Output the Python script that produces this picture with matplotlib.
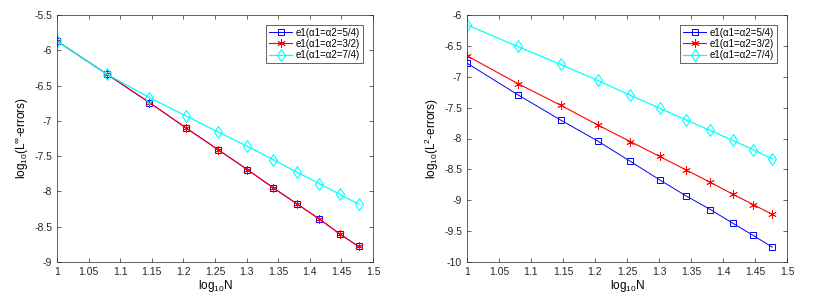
import numpy as np
import matplotlib.pyplot as plt

# log10 of N = 10, 12, ..., 30
N = [10, 12, 14, 16, 18, 20, 22, 24, 26, 28, 30]
x = np.log10(N)

# L-infinity errors (log10)
inf_54 = [-5.87, -6.34, -6.74, -7.10, -7.41, -7.69, -7.95, -8.18, -8.39, -8.60, -8.78]
inf_32 = [-5.87, -6.34, -6.74, -7.10, -7.41, -7.69, -7.95, -8.18, -8.39, -8.60, -8.78]
inf_74 = [-5.87, -6.34, -6.67, -6.93, -7.16, -7.36, -7.55, -7.73, -7.89, -8.04, -8.18]

# L2 errors (log10)
l2_54 = [-6.78, -7.29, -7.70, -8.04, -8.37, -8.67, -8.93, -9.15, -9.37, -9.57, -9.76]
l2_32 = [-6.66, -7.11, -7.46, -7.78, -8.05, -8.29, -8.51, -8.71, -8.90, -9.07, -9.23]
l2_74 = [-6.16, -6.51, -6.80, -7.06, -7.30, -7.51, -7.70, -7.87, -8.03, -8.18, -8.33]

labels = ['e1(\u03b11=\u03b12=5/4)', 'e1(\u03b11=\u03b12=3/2)', 'e1(\u03b11=\u03b12=7/4)']
xticks = np.arange(1, 1.501, 0.05)
xticklabels = ['1', '1.05', '1.1', '1.15', '1.2', '1.25', '1.3', '1.35', '1.4', '1.45', '1.5']

plt.rcParams['font.family'] = ['Arial', 'Liberation Sans', 'DejaVu Sans']
plt.rcParams['font.size'] = 7.5

fig = plt.figure(figsize=(8.13, 3.02), dpi=100)
ax1 = fig.add_axes([57/813, 1 - 262/302, 316/813, 247/302])
ax2 = fig.add_axes([467/813, 1 - 262/302, 320/813, 247/302])


def draw(ax, ys, ylim, yticks, ylabel):
    ax.plot(x, ys[0], color='#0000ff', marker='s', mfc='none', ms=5, lw=0.7, mew=0.7, label=labels[0])
    ax.plot(x, ys[1], color='#ff0000', marker=(6, 2, 0), ms=6, lw=0.8, mew=0.6, label=labels[1])
    ax.plot(x, ys[2], color='#00ffff', marker='d', mfc='none', ms=6, lw=0.9, mew=0.8, label=labels[2])
    ax.set_xlim(1, 1.5)
    ax.set_ylim(*ylim)
    ax.set_xticks(xticks)
    ax.set_xticklabels(xticklabels)
    ax.set_yticks(yticks)
    ax.set_yticklabels(['%g' % t for t in yticks])
    ax.tick_params(direction='in', top=True, right=True, length=3, width=0.5,
                   colors='#262626', labelsize=7.5)
    for s in ax.spines.values():
        s.set_color('#262626')
        s.set_linewidth(0.5)
    ax.set_xlabel(r'$\mathregular{log_{10}N}$', fontsize=8.5, labelpad=1)
    ax.set_ylabel(ylabel, fontsize=8.5, labelpad=2)
    leg = ax.legend(loc='upper right', fontsize=7, fancybox=False, framealpha=1,
                    edgecolor='#262626', handlelength=2.4, borderpad=0.3,
                    labelspacing=0.12, handletextpad=0.4, borderaxespad=1.0)
    leg.get_frame().set_linewidth(0.5)


draw(ax1, [inf_54, inf_32, inf_74], (-9, -5.5), np.arange(-9, -5.49, 0.5),
     r'$\mathregular{log_{10}(L^{\infty}}$-errors$\mathregular{)}$')
draw(ax2, [l2_54, l2_32, l2_74], (-10, -6), np.arange(-10, -5.99, 0.5),
     r'$\mathregular{log_{10}(L^{2}}$-errors$\mathregular{)}$')

fig.savefig('out.png', dpi=100, facecolor='white')
